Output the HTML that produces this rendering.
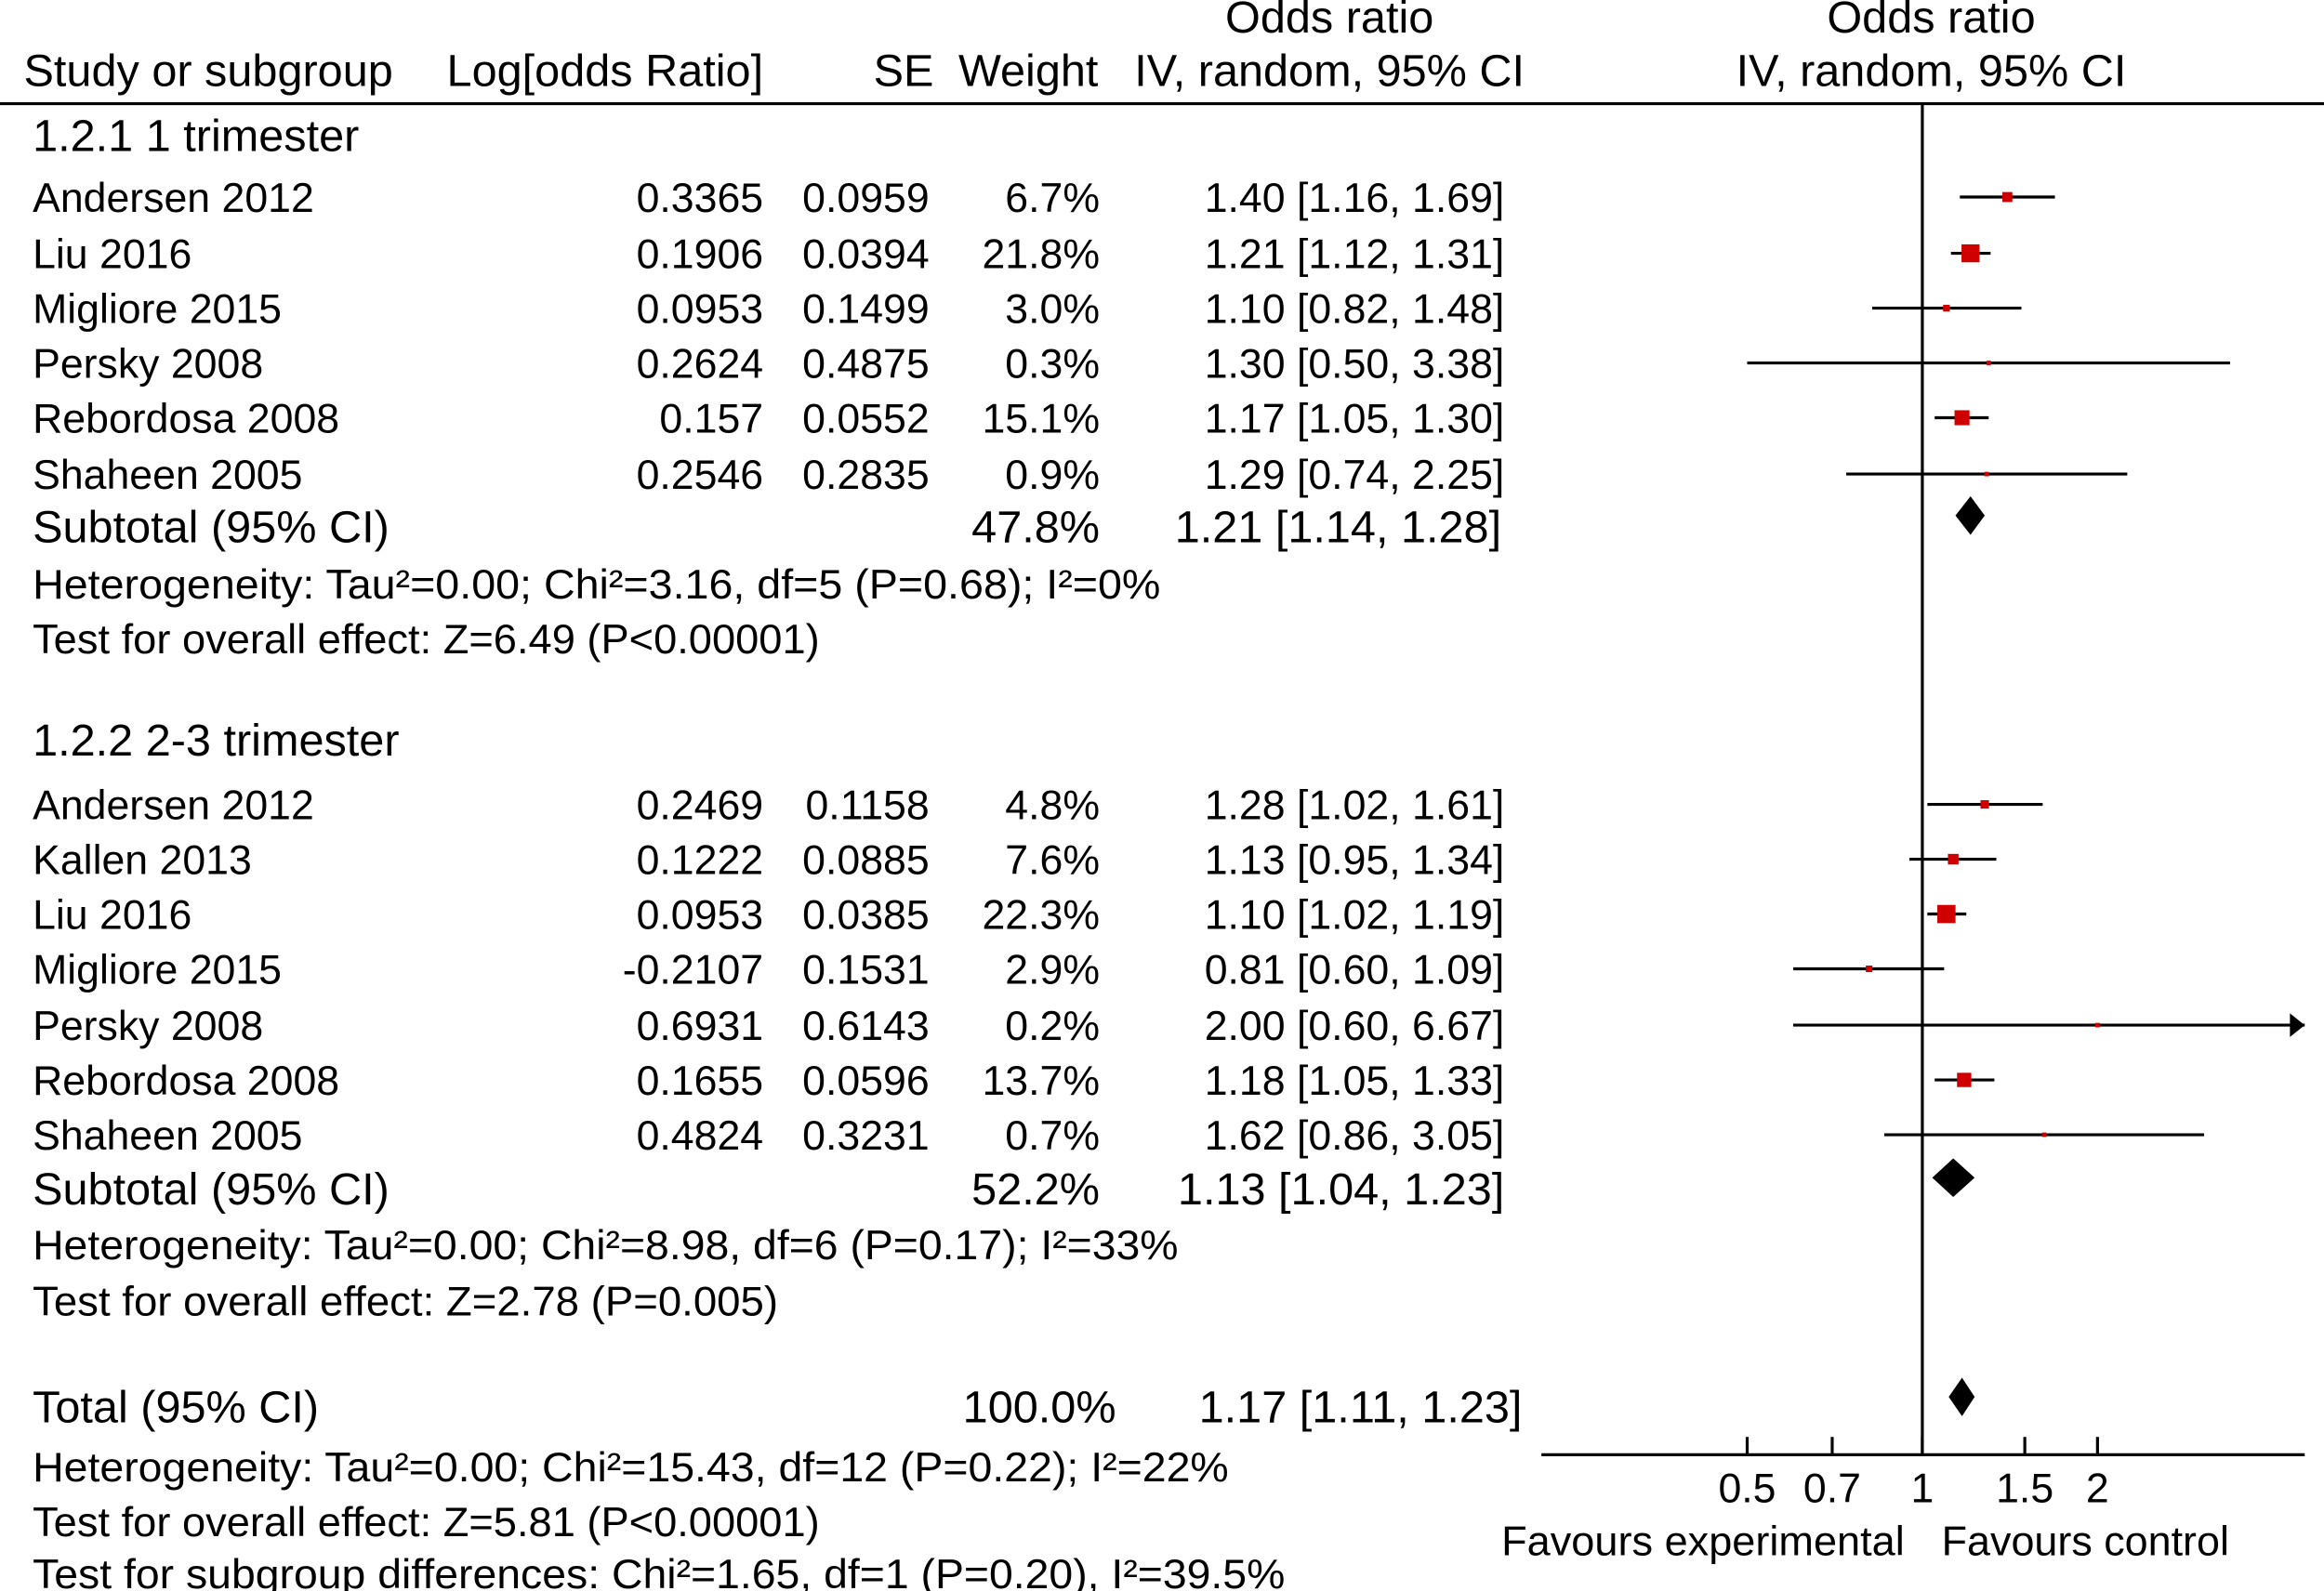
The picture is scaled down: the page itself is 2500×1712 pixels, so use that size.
<!DOCTYPE html>
<html><head><meta charset="utf-8"><style>
html,body{margin:0;padding:0;background:#fff;}
svg{display:block;}
text{font-family:"Liberation Sans","DejaVu Sans",sans-serif;font-size:28px;fill:#000;}
.big{font-size:30.5px;}
</style></head><body>
<svg id="plot" width="2500" height="1712" viewBox="0 0 1568 1074" preserveAspectRatio="none">
<g id="static">
<text class="big" x="897" y="22" text-anchor="middle">Odds ratio</text>
<text class="big" x="1303" y="22" text-anchor="middle">Odds ratio</text>
<text class="big" x="16" y="58">Study or subgroup</text>
<text class="big" x="515" y="58" text-anchor="end">Log[odds Ratio]</text>
<text class="big" x="630" y="58" text-anchor="end">SE</text>
<text class="big" x="741" y="58" text-anchor="end">Weight</text>
<text class="big" x="897" y="58" text-anchor="middle">IV, random, 95% CI</text>
<text class="big" x="1303" y="58" text-anchor="middle">IV, random, 95% CI</text>
<line x1="0" y1="70" x2="1568" y2="70" stroke="#000" stroke-width="2"/>
</g>
<g id="rows"></g>
</svg>
<script>
const studies1 = ["Andersen 2012","Liu 2016","Migliore 2015","Persky 2008","Rebordosa 2008","Shaheen 2005"];
const logOR1 = ["0.3365","0.1906","0.0953","0.2624","0.157","0.2546"];
const se1 = ["0.0959","0.0394","0.1499","0.4875","0.0552","0.2835"];
const weight1 = [6.7,21.8,3.0,0.3,15.1,0.9];
const or1 = [1.40,1.21,1.10,1.30,1.17,1.29];
const lo1 = [1.16,1.12,0.82,0.50,1.05,0.74];
const hi1 = [1.69,1.31,1.48,3.38,1.30,2.25];
const studies2 = ["Andersen 2012","Kallen 2013","Liu 2016","Migliore 2015","Persky 2008","Rebordosa 2008","Shaheen 2005"];
const logOR2 = ["0.2469","0.1222","0.0953","-0.2107","0.6931","0.1655","0.4824"];
const se2 = ["0.1158","0.0885","0.0385","0.1531","0.6143","0.0596","0.3231"];
const weight2 = [4.8,7.6,22.3,2.9,0.2,13.7,0.7];
const or2 = [1.28,1.13,1.10,0.81,2.00,1.18,1.62];
const lo2 = [1.02,0.95,1.02,0.60,0.60,1.05,0.86];
const hi2 = [1.61,1.34,1.19,1.09,6.67,1.33,3.05];
const subtotals = [[1.21,1.14,1.28],[1.13,1.04,1.23]];
const total = [1.17,1.11,1.23];
const ticks = [0.5,0.7,1,1.5,2];
const tickLabels = ["0.5","0.7","1","1.5","2"];

const NS="http://www.w3.org/2000/svg";
const g=document.getElementById('rows');
const X0=1297, K=170.5, XMIN=1040, XMAX=1555;
function xs(v){return X0+K*Math.log(v);}
function el(tag,attrs,txt){const e=document.createElementNS(NS,tag);for(const k in attrs)e.setAttribute(k,attrs[k]);if(txt!==undefined)e.textContent=txt;g.appendChild(e);return e;}
function txt(x,y,s,anchor,name,cls,len){const e=el('text',{x:x,y:y+10,'text-anchor':anchor||'start'},s);
if(cls)e.setAttribute('class',cls);
if(len){e.setAttribute('textLength',len);e.setAttribute('lengthAdjust','spacingAndGlyphs');}

return e;}
function study(y,name,lor,se,w,or,lo,hi,i){
 txt(22,y,name,'start','study-name');
 txt(515,y,lor,'end','log-or-value');
 txt(627,y,se,'end','se-value');
 txt(742,y,w.toFixed(1)+'%','end','weight-value');
 txt(1015,y,or.toFixed(2)+' ['+lo.toFixed(2)+', '+hi.toFixed(2)+']','end','ci-value');
 let x1=Math.max(XMIN,xs(lo)), x2=Math.min(XMAX,xs(hi));
 const l=el('line',{x1:x1,y1:y,x2:x2,y2:y,stroke:'#000','stroke-width':2});
 
 
 if(xs(hi)>XMAX){const a=el('path',{d:`M${XMAX-10},${y-8} L${XMAX},${y} L${XMAX-10},${y+8}Z`,fill:'#000'});
 
 }
 const s=Math.max(3,Math.sqrt(w)*2.6);
 const r=el('rect',{x:xs(or)-s/2,y:y-s/2,width:s,height:s,fill:'#d00000'});
 
 
}
function diamond(y,v,name){
 const d=el('path',{d:`M${xs(v[1])},${y} L${xs(v[0])},${y-13} L${xs(v[2])},${y} L${xs(v[0])},${y+13}Z`,fill:'#000'});
 
 
}
txt(22,92,'1.2.1 1 trimester','start','subgroup-1-title','big');
const ys1=[133,171,208,245,282,320];
studies1.forEach((s,i)=>study(ys1[i],s,logOR1[i],se1[i],weight1[i],or1[i],lo1[i],hi1[i]));
txt(22,356,'Subtotal (95% CI)','start','subtotal-1-label','big');
txt(742,356,weight1.reduce((a,b)=>a+b,0).toFixed(1)+'%','end','subtotal-1-weight','big');
txt(1013,356,subtotals[0][0].toFixed(2)+' ['+subtotals[0][1].toFixed(2)+', '+subtotals[0][2].toFixed(2)+']','end','subtotal-1-ci','big');
diamond(348,subtotals[0],'subtotal-1-diamond');
txt(22,394,'Heterogeneity: Tau²=0.00; Chi²=3.16, df=5 (P=0.68); I²=0%','start','heterogeneity-1',null,761);
txt(22,431,'Test for overall effect: Z=6.49 (P<0.00001)','start','overall-effect-1',null,531);
txt(22,500,'1.2.2 2-3 trimester','start','subgroup-2-title','big');
const ys2=[543,580,617,654,692,729,766];
studies2.forEach((s,i)=>study(ys2[i],s,logOR2[i],se2[i],weight2[i],or2[i],lo2[i],hi2[i]));
txt(22,803,'Subtotal (95% CI)','start','subtotal-2-label','big');
txt(742,803,weight2.reduce((a,b)=>a+b,0).toFixed(1)+'%','end','subtotal-2-weight','big');
txt(1015,803,subtotals[1][0].toFixed(2)+' ['+subtotals[1][1].toFixed(2)+', '+subtotals[1][2].toFixed(2)+']','end','subtotal-2-ci','big');
diamond(795,subtotals[1],'subtotal-2-diamond');
txt(22,840,'Heterogeneity: Tau²=0.00; Chi²=8.98, df=6 (P=0.17); I²=33%','start','heterogeneity-2',null,773);
txt(22,878,'Test for overall effect: Z=2.78 (P=0.005)','start','overall-effect-2',null,503);
txt(22,950,'Total (95% CI)','start','total-label','big');
txt(753,950,'100.0%','end','total-weight','big');
txt(1027,950,total[0].toFixed(2)+' ['+total[1].toFixed(2)+', '+total[2].toFixed(2)+']','end','total-ci','big');
diamond(943,total,'total-diamond');
txt(22,990,'Heterogeneity: Tau²=0.00; Chi²=15.43, df=12 (P=0.22); I²=22%','start','heterogeneity-total',null,807);
txt(22,1027,'Test for overall effect: Z=5.81 (P<0.00001)','start','overall-effect-total',null,531);
txt(22,1062,'Test for subgroup differences: Chi²=1.65, df=1 (P=0.20), I²=39.5%','start','subgroup-differences',null,845);
let v=el('line',{x1:X0,y1:70,x2:X0,y2:982,stroke:'#000','stroke-width':2});


let ax=el('line',{x1:XMIN,y1:982,x2:XMAX,y2:982,stroke:'#000','stroke-width':2});


ticks.forEach((t,i)=>{
 const tl=el('line',{x1:xs(t),y1:970,x2:xs(t),y2:982,stroke:'#000','stroke-width':2});
 
 
 txt(xs(t),1004,tickLabels[i],'middle','x-tick-label');
});
txt(1013,1040,'Favours experimental','start','favours-experimental',null,272);
txt(1310,1040,'Favours control','start','favours-control',null,194);
</script>
</body></html>
